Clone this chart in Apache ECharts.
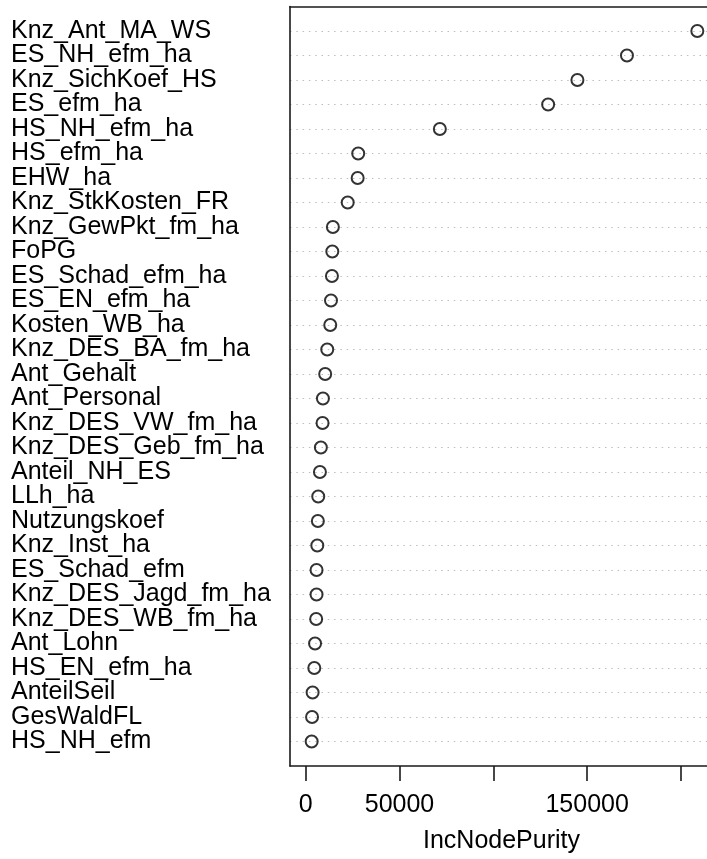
<!DOCTYPE html>
<html>
<head>
<meta charset="utf-8">
<script src="https://cdn.jsdelivr.net/npm/echarts@6/dist/echarts.min.js"></script>
<style>
html,body{margin:0;padding:0;background:#fff;overflow:hidden;}
#chart{width:730px;height:859px;}
</style>
</head>
<body>
<div id="chart"></div>
<script>
var names = ['Knz_Ant_MA_WS','ES_NH_efm_ha','Knz_SichKoef_HS','ES_efm_ha','HS_NH_efm_ha','HS_efm_ha','EHW_ha','Knz_StkKosten_FR','Knz_GewPkt_fm_ha','FoPG','ES_Schad_efm_ha','ES_EN_efm_ha','Kosten_WB_ha','Knz_DES_BA_fm_ha','Ant_Gehalt','Ant_Personal','Knz_DES_VW_fm_ha','Knz_DES_Geb_fm_ha','Anteil_NH_ES','LLh_ha','Nutzungskoef','Knz_Inst_ha','ES_Schad_efm','Knz_DES_Jagd_fm_ha','Knz_DES_WB_fm_ha','Ant_Lohn','HS_EN_efm_ha','AnteilSeil','GesWaldFL','HS_NH_efm'];
var values = [208700,171200,144800,129200,71500,28000,27700,22400,14500,14200,14000,13500,13100,11500,10400,9200,9000,8100,7600,6700,6500,6200,5800,5800,5600,5000,4600,3700,3400,3200];
var tickValues = [0,50000,100000,150000,200000];
var tickLabels = [0,50000,150000];
var xTitle = 'IncNodePurity';

var vmax = Math.max.apply(null, values);
var pad = 0.04 * vmax;
var cats = [''].concat(names).concat(['']);
var data = names.map(function(n, i){ return [values[i], n]; });
var font = '"Liberation Sans", Arial, Helvetica, sans-serif';
var boxLine = {color: '#1a1a1a', width: 1.6};

var chart = echarts.init(document.getElementById('chart'), null, {renderer:'canvas'});
chart.setOption({
  animation: false,
  backgroundColor: '#ffffff',
  grid: {left: 290, top: 6.5, width: 423, height: 765, show: false},
  xAxis: [{
    type: 'value', min: -pad, max: vmax + pad, position: 'bottom',
    name: xTitle, nameLocation: 'middle', nameGap: 63,
    nameTextStyle: {fontSize: 25, color: '#000', fontFamily: font},
    axisLine: {show: true, onZero: false, lineStyle: boxLine},
    axisTick: {show: true, length: 15, customValues: tickValues, lineStyle: boxLine},
    axisLabel: {show: true, customValues: tickLabels, margin: 27, fontSize: 25, color: '#000', fontFamily: font,
      formatter: function(v){ return String(v); }},
    splitLine: {show: false}
  }, {
    type: 'value', min: -pad, max: vmax + pad, position: 'top',
    axisLine: {show: true, onZero: false, lineStyle: boxLine},
    axisTick: {show: false}, axisLabel: {show: false}, splitLine: {show: false}
  }],
  yAxis: {
    type: 'category', data: cats, inverse: true, boundaryGap: false, position: 'left',
    axisLine: {show: true, onZero: false, lineStyle: boxLine}, axisTick: {show: false},
    axisLabel: {show: true, interval: 0, align: 'left', margin: 279, fontSize: 25, color: '#000', fontFamily: font},
    splitLine: {show: true, interval: function(i, v){ return v !== ''; }, lineStyle: {color: '#bebebe', width: 1.2, type: [1.5, 4.8]}}
  },
  series: [{
    type: 'scatter', data: data, xAxisIndex: 0, symbol: 'circle', symbolSize: 12,
    itemStyle: {color: 'rgba(0,0,0,0)', borderColor: '#000', borderWidth: 2},
    emphasis: {disabled: true}
  }]
});
</script>
</body>
</html>
